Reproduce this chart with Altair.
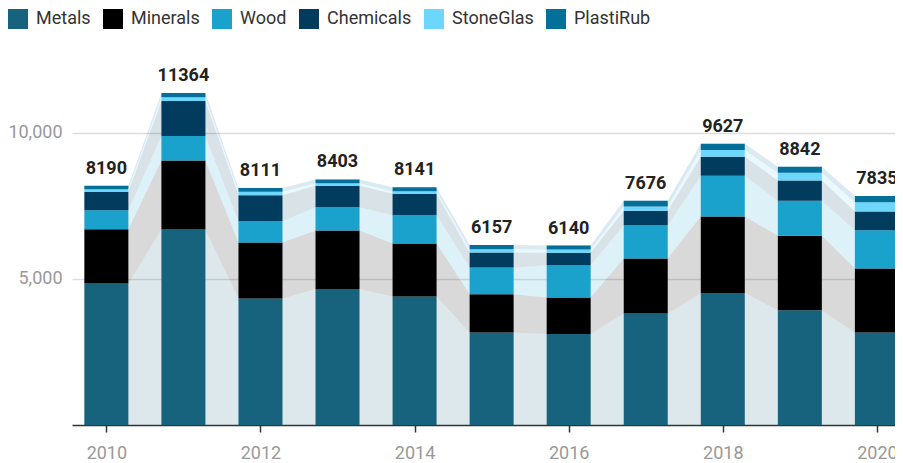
import altair as alt
import pandas as pd

years = [2010, 2011, 2012, 2013, 2014, 2015, 2016, 2017, 2018, 2019, 2020]
series = ["Metals", "Minerals", "Wood", "Chemicals", "StoneGlas", "PlastiRub"]
colors = ["#17627c", "#000000", "#1aa2cd", "#013b5e", "#6cd6fd", "#046f98"]

metals = [4843, 6692, 4329, 4658, 4397, 3164, 3117, 3815, 4521, 3928, 3164]
minerals = [1860, 2363, 1918, 2000, 1815, 1312, 1246, 1884, 2617, 2545, 2192]
wood = [650, 833, 730, 798, 970, 914, 1107, 1141, 1390, 1199, 1312]
chemicals = [627, 1199, 890, 730, 730, 514, 421, 490, 651, 698, 640]
stoneglas = [90, 126, 120, 92, 92, 113, 116, 149, 229, 261, 319]
plastirub = [120, 151, 124, 125, 137, 140, 133, 197, 219, 211, 208]

values = {
    "Metals": metals,
    "Minerals": minerals,
    "Wood": wood,
    "Chemicals": chemicals,
    "StoneGlas": stoneglas,
    "PlastiRub": plastirub,
}

rows = []
for i, s in enumerate(series):
    for yr, v in zip(years, values[s]):
        rows.append({"year": yr, "series": s, "idx": i, "value": v})
df = pd.DataFrame(rows)

# area band rows: one point at each bar edge (half bar width in year units)
half = 0.285
area_rows = []
for r in rows:
    for off in (-half, half):
        d = dict(r)
        d["x"] = r["year"] + off
        area_rows.append(d)
adf = pd.DataFrame(area_rows)

totals = pd.DataFrame({
    "year": years,
    "total": [sum(vals) for vals in zip(*[values[s] for s in series])],
})

FONT = "Roboto"
xscale = alt.Scale(domain=[2009.554, 2020.235], nice=False, zero=False, padding=0)
yscale = alt.Scale(domain=[0, 12800], nice=False)
cscale = alt.Scale(domain=series, range=colors)

xaxis = alt.Axis(
    values=[2010, 2012, 2014, 2016, 2018, 2020], labelExpr="format(datum.value, 'd')",
    grid=False, domainColor="#333333", domainWidth=1.5, tickColor="#333333",
    tickSize=7, tickWidth=1.5, labelFontSize=18, labelColor="#999999",
    labelFont=FONT, labelPadding=12, title=None, labelOverlap=False,
    labelFlush=False,
)
yaxis = alt.Axis(
    values=[5000, 10000], labelExpr="format(datum.value, ',')", domain=False,
    ticks=False, labelFontSize=18, labelColor="#999999", labelFont=FONT,
    labelPadding=10, gridColor="#dddddd", gridWidth=1.5, title=None,
)
legend = alt.Legend(
    orient="none", legendX=-64, legendY=-42, direction="horizontal",
    title=None, symbolType="square", symbolSize=400,
    symbolStrokeWidth=0, symbolOpacity=1, labelFontSize=18,
    labelFont=FONT, labelColor="#333333", labelOffset=8,
    columnPadding=12, padding=0,
)

area = alt.Chart(adf).mark_area(opacity=0.15, interpolate="linear").encode(
    x=alt.X("x:Q", scale=xscale, axis=xaxis),
    y=alt.Y("value:Q", stack="zero", scale=yscale, axis=yaxis),
    color=alt.Color("series:N", scale=cscale, legend=legend),
    order=alt.Order("idx:Q"),
)

bars = alt.Chart(df).mark_bar(size=44, strokeWidth=0).encode(
    x=alt.X("year:Q", scale=xscale, axis=xaxis),
    y=alt.Y("value:Q", stack="zero", scale=yscale, axis=yaxis),
    color=alt.Color("series:N", scale=cscale, legend=legend),
    order=alt.Order("idx:Q"),
)

labels = alt.Chart(totals).mark_text(
    dy=-12, baseline="alphabetic", align="center", fontSize=18,
    fontWeight="bold", font=FONT, color="#222222",
).encode(
    x=alt.X("year:Q", scale=xscale, axis=xaxis),
    y=alt.Y("total:Q", scale=yscale, axis=yaxis),
    text=alt.Text("total:Q", format="d"),
)

chart = alt.layer(area, bars, labels).properties(
    width=823,
    height=374,
    autosize=alt.AutoSizeParams(type="none"),
    padding={"left": 64, "top": 43, "right": 0, "bottom": 37},
).configure_view(stroke=None)

chart.save("out.html", embed_options={"renderer": "svg", "actions": False})
